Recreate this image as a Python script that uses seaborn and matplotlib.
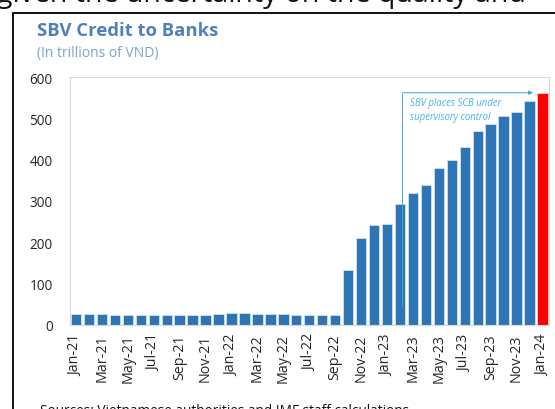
import matplotlib
matplotlib.use("Agg")
import matplotlib.pyplot as plt
import matplotlib.patches as mpatches
import seaborn as sns
import pandas as pd

# Monthly SBV credit to banks, trillions of VND
months = [
    "Jan-21", "Feb-21", "Mar-21", "Apr-21", "May-21", "Jun-21", "Jul-21", "Aug-21",
    "Sep-21", "Oct-21", "Nov-21", "Dec-21", "Jan-22", "Feb-22", "Mar-22", "Apr-22",
    "May-22", "Jun-22", "Jul-22", "Aug-22", "Sep-22", "Oct-22", "Nov-22", "Dec-22",
    "Jan-23", "Feb-23", "Mar-23", "Apr-23", "May-23", "Jun-23", "Jul-23", "Aug-23",
    "Sep-23", "Oct-23", "Nov-23", "Dec-23", "Jan-24",
]
credit = [
    27, 27, 27, 25, 25, 25, 24, 25,
    25, 25, 25, 26, 29, 29, 26, 26,
    26, 25, 25, 25, 25, 132, 211, 242,
    244, 292, 320, 339, 380, 398, 430, 469,
    487, 506, 515, 542, 562,
]
y_ticks = [0, 100, 200, 300, 400, 500, 600]

title = "SBV Credit to Banks"
subtitle = "(In trillions of VND)"
note = "SBV places SCB under\nsupervisory control"
source = "Sources: Vietnamese authorities and IMF staff calculations."
body_text = "given the uncertainty on the quality and"

BLUE = "#2e75b6"
RED = "#ff0000"
FONT = ["Open Sans", "DejaVu Sans"]

sns.set_theme(style="white")
plt.rcParams["font.family"] = FONT

df = pd.DataFrame({"month": months, "credit": credit})
colors = [BLUE] * (len(months) - 1) + [RED]

fig = plt.figure(figsize=(5.55, 4.10), dpi=100)
W, H = 555, 410
ax = fig.add_axes([69.5 / W, 84 / H, (549 - 69.5) / W, 248 / H])

sns.barplot(data=df, x="month", y="credit", hue="month", palette=colors,
            legend=False, width=0.8, edgecolor="#dfe8f2", linewidth=0.5,
            saturation=1, ax=ax)

ax.set_xlim(-0.5, len(months) - 0.5)
ax.set_ylim(0, 600)
ax.set_yticks(y_ticks)
ax.set_yticklabels([str(v) for v in y_ticks], fontsize=9.8, color="#262626")
ax.set_xticks(range(0, len(months), 2))
ax.set_xticklabels(months[::2], rotation=90, fontsize=10.3, color="#262626")
ax.set_xlabel("")
ax.set_ylabel("")
ax.tick_params(axis="y", length=3, width=0.6, color="#d0d0d0", pad=9)
ax.tick_params(axis="x", length=0, pad=6)
for s in ax.spines.values():
    s.set_visible(True)
    s.set_color("#d9d9d9")
    s.set_linewidth(0.8)

# Annotation bracket: up from the Feb-23 bar and across to the latest month
line_color = "#3aa6dd"
x0, x1 = 25.19, 35.27
ax.plot([x0, x0], [44, 562], color=line_color, lw=0.7, solid_capstyle="butt")
ax.annotate("", xy=(x1, 562), xytext=(x0, 562),
            arrowprops=dict(arrowstyle="-|>", color=line_color, lw=0.7,
                            mutation_scale=6, shrinkA=0, shrinkB=0))
ax.text(25.75, 521, note, fontsize=6.9, style="italic", color="#45b4ea",
        va="center", ha="left", linespacing=1.3)

# Titles
fig.text(37 / W, 1 - 31 / H, title, fontsize=13.3, fontweight="bold",
         color="#4f81b8", va="center", ha="left")
fig.text(37 / W, 1 - 54 / H, subtitle, fontsize=10, color="#79a3cf",
         va="center", ha="left")

# Surrounding page elements
fig.text(-3 / W, 1 - 2 / H, body_text, fontsize=20.5, color="#111111",
         va="baseline", ha="left")
fig.text(40 / W, 1 - 404 / H, source, fontsize=9.8, color="#111111",
         va="top", ha="left")
frame = mpatches.Rectangle((13 / W, -0.1), 1.2, 1 - 13.5 / H + 0.1,
                           transform=fig.transFigure, fill=False,
                           edgecolor="black", linewidth=1.3, clip_on=False)
fig.patches.append(frame)

fig.savefig("out.png", dpi=100)
